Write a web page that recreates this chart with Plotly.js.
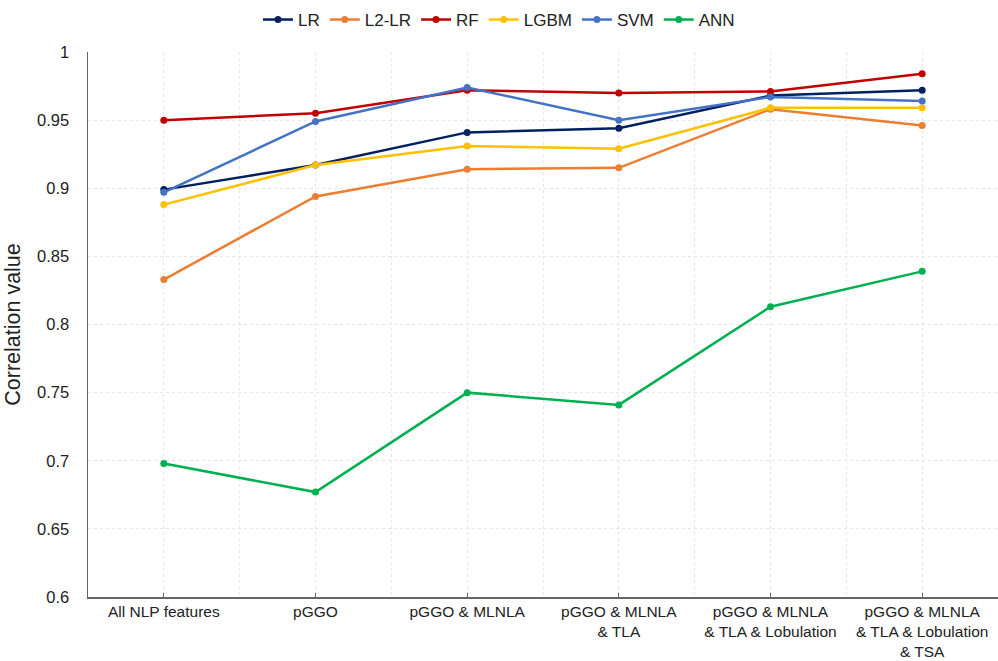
<!DOCTYPE html>
<html>
<head>
<meta charset="utf-8">
<script src="https://cdn.plot.ly/plotly-3.0.1.min.js"></script>
<style>
  html, body { margin: 0; padding: 0; background: #fff; }
  #chart { width: 998px; height: 661px; }
</style>
</head>
<body>
<div id="chart"></div>
<script>
// Feature-set combinations along the x axis
const categories = [
  "All NLP features",
  "pGGO",
  "pGGO & MLNLA",
  "pGGO & MLNLA<br>& TLA",
  "pGGO & MLNLA<br>& TLA & Lobulation",
  "pGGO & MLNLA<br>& TLA & Lobulation<br>& TSA"
];

// Correlation values per model
const lrValues   = [0.899, 0.917, 0.941, 0.944, 0.968, 0.972];
const l2lrValues = [0.833, 0.894, 0.914, 0.915, 0.958, 0.946];
const rfValues   = [0.950, 0.955, 0.972, 0.970, 0.971, 0.984];
const lgbmValues = [0.888, 0.917, 0.931, 0.929, 0.959, 0.959];
const svmValues  = [0.897, 0.949, 0.974, 0.950, 0.967, 0.964];
const annValues  = [0.698, 0.677, 0.750, 0.741, 0.813, 0.839];

const yTicks = [0.6, 0.65, 0.7, 0.75, 0.8, 0.85, 0.9, 0.95, 1];

const series = [
  { name: "LR",    y: lrValues,   color: "#002060" },
  { name: "L2-LR", y: l2lrValues, color: "#ED7D31" },
  { name: "RF",    y: rfValues,   color: "#C00000" },
  { name: "LGBM",  y: lgbmValues, color: "#FFC000" },
  { name: "SVM",   y: svmValues,  color: "#4472C4" },
  { name: "ANN",   y: annValues,  color: "#00B050" }
];

const xIdx = categories.map((_, i) => i);

const traces = series.map(s => ({
  type: "scatter",
  mode: "lines+markers",
  name: s.name,
  x: xIdx,
  y: s.y,
  line: { color: s.color, width: 2.5 },
  marker: { color: s.color, size: 7 }
}));

const layout = {
  width: 998,
  height: 661,
  paper_bgcolor: "#fff",
  plot_bgcolor: "#fff",
  margin: { l: 88, r: 0, t: 52, b: 64 },
  font: { family: "Liberation Sans, Arial, sans-serif", color: "#222", size: 16 },
  showlegend: true,
  legend: {
    orientation: "h",
    x: 0.5, xanchor: "center", xref: "container",
    y: 0.997, yanchor: "top",
    yref: "container",
    font: { size: 17 },
    itemwidth: 30,
    tracegroupgap: 0
  },
  xaxis: {
    range: [-0.5, 5.5],
    tickmode: "array",
    tickvals: xIdx,
    ticktext: categories,
    ticks: "inside",
    ticklen: 4,
    tickcolor: "#666",
    showline: true,
    linecolor: "#666",
    linewidth: 1.5,
    showgrid: true,
    gridcolor: "#e6e6e6",
    griddash: "dot",
    gridwidth: 1,
    minor: {
      tickmode: "linear",
      tick0: -0.5,
      dtick: 1,
      showgrid: true,
      gridcolor: "#e6e6e6",
      griddash: "dot",
      gridwidth: 1,
      ticks: ""
    },
    zeroline: false,
    tickfont: { size: 15.5 },
    fixedrange: true
  },
  yaxis: {
    range: [0.6, 1],
    tickmode: "array",
    tickvals: yTicks,
    ticktext: yTicks.map(v => String(v)),
    ticks: "",
    ticklabelstandoff: 14,
    showline: true,
    linecolor: "#666",
    linewidth: 1.5,
    showgrid: true,
    gridcolor: "#e6e6e6",
    griddash: "dot",
    gridwidth: 1,
    zeroline: false,
    tickfont: { size: 16.5 },
    title: { text: "Correlation value", font: { size: 21.5 }, standoff: 10 },
    fixedrange: true
  }
};

Plotly.newPlot("chart", traces, layout, { displayModeBar: false, staticPlot: true });
</script>
</body>
</html>
